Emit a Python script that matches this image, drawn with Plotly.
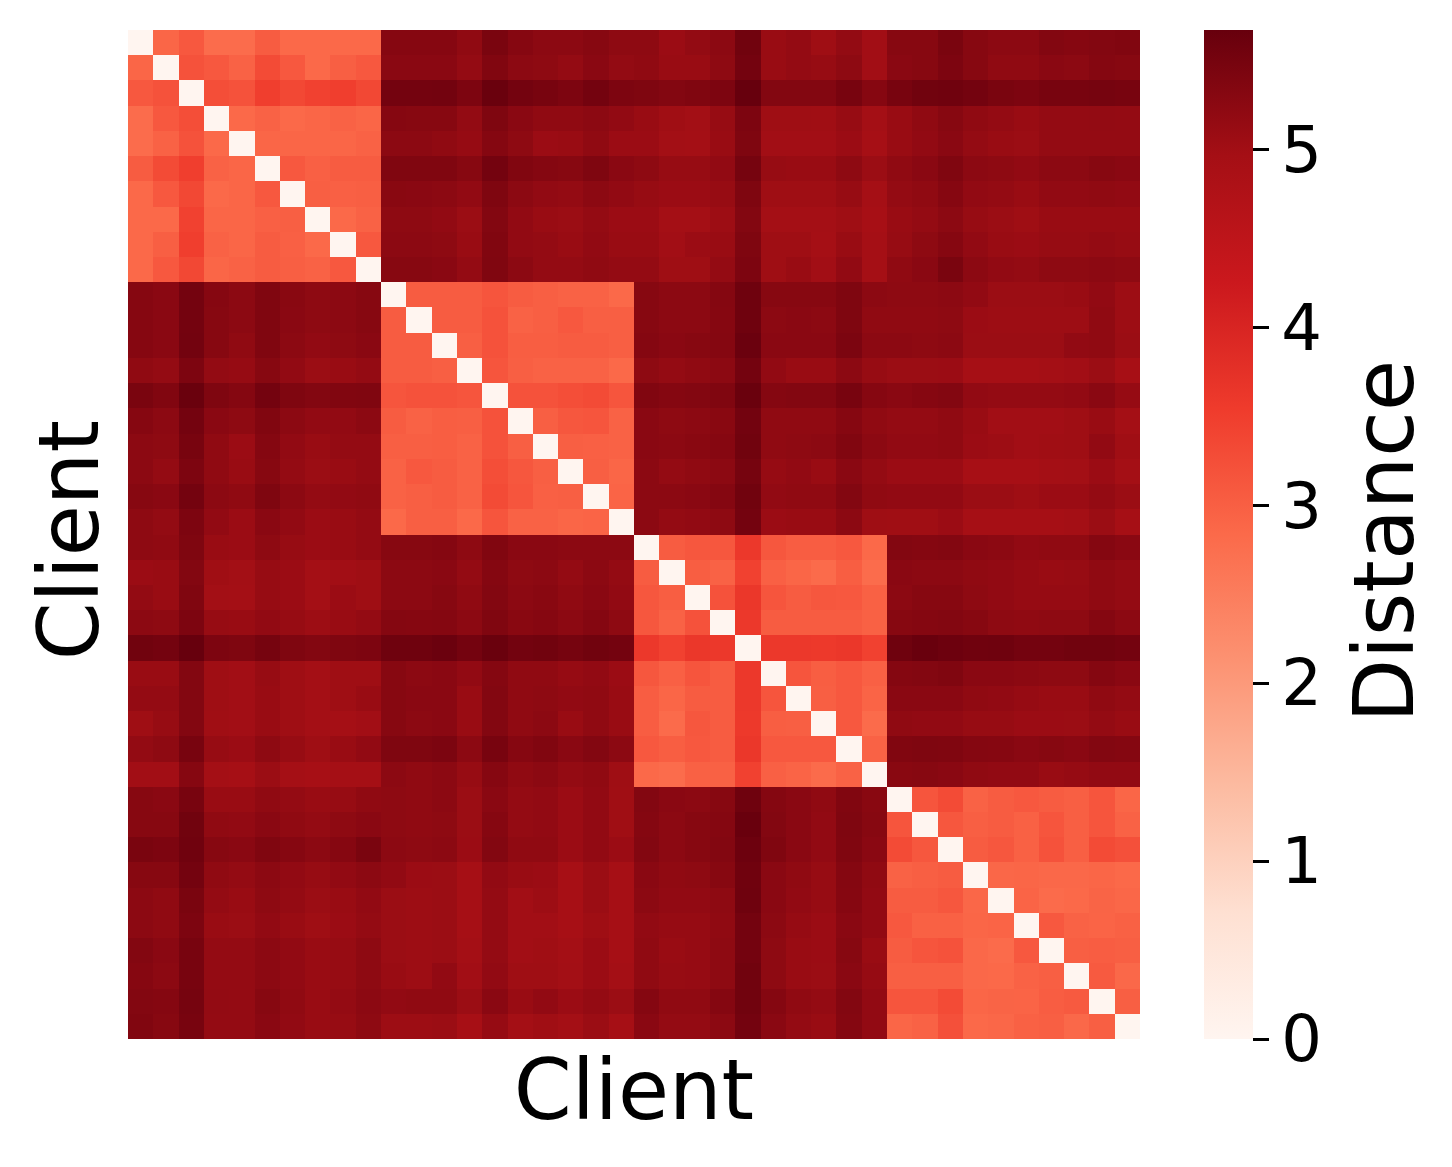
import plotly.graph_objects as go

# Upper triangle of the symmetric client distance matrix, one row per client
r00 = [0,2.9,3.1,2.8,2.8,3.05,2.85,2.85,2.85,2.85, 5.32,5.32,5.32,5.2,5.45,5.32,5.25,5.25,5.3,5.22, 5.22,5.08,5.17,5.25,5.55,5.1,5.15,5.03,5.17,5.0,5.3,5.3,5.45,5.3,5.25,5.25,5.35,5.32,5.35,5.37]
r01 = [0,3.2,3.1,2.95,3.3,3.1,2.85,3.0,3.1, 5.27,5.27,5.27,5.15,5.37,5.25,5.22,5.15,5.27,5.17, 5.2,5.1,5.1,5.22,5.52,5.1,5.15,5.12,5.22,5.0,5.27,5.3,5.42,5.3,5.2,5.2,5.27,5.25,5.33,5.3]
r02 = [0,3.25,3.2,3.5,3.35,3.45,3.5,3.35, 5.52,5.52,5.53,5.42,5.63,5.52,5.48,5.42,5.52,5.42, 5.4,5.35,5.38,5.42,5.67,5.35,5.35,5.35,5.47,5.32,5.47,5.55,5.57,5.52,5.45,5.42,5.47,5.47,5.5,5.47]
r03 = [0,2.85,2.95,2.85,2.9,2.95,2.9, 5.32,5.3,5.3,5.17,5.4,5.27,5.2,5.2,5.25,5.18, 5.1,5.02,4.98,5.12,5.42,5.03,5.03,5.02,5.12,4.97,5.1,5.2,5.3,5.2,5.15,5.1,5.15,5.15,5.17,5.15]
r04 = [0,2.9,2.9,2.9,2.9,2.95, 5.25,5.25,5.2,5.13,5.33,5.22,5.08,5.1,5.2,5.08, 5.08,4.98,4.97,5.1,5.4,5.0,5.0,5.0,5.08,4.95,5.1,5.18,5.27,5.15,5.1,5.07,5.15,5.15,5.15,5.15]
r05 = [0,3.1,2.98,3.05,3.05, 5.38,5.38,5.38,5.3,5.52,5.37,5.33,5.3,5.4,5.27, 5.22,5.12,5.12,5.18,5.5,5.12,5.1,5.1,5.22,5.07,5.2,5.27,5.38,5.25,5.22,5.18,5.25,5.25,5.3,5.27]
r06 = [0,3.0,2.98,3.0, 5.28,5.27,5.25,5.18,5.4,5.25,5.18,5.15,5.25,5.18, 5.12,5.08,5.08,5.12,5.4,5.03,5.03,5.03,5.12,4.96,5.15,5.2,5.32,5.18,5.15,5.1,5.18,5.18,5.2,5.18]
r07 = [0,2.85,2.95, 5.22,5.22,5.18,5.07,5.35,5.18,5.1,5.07,5.15,5.08, 5.08,4.97,4.97,5.05,5.35,4.97,4.97,4.97,5.03,4.93,5.1,5.15,5.25,5.12,5.07,5.03,5.1,5.1,5.1,5.1]
r08 = [0,3.1, 5.25,5.25,5.22,5.1,5.37,5.18,5.15,5.1,5.18,5.1, 5.1,5.0,5.08,5.1,5.4,5.03,5.03,4.96,5.1,4.96,5.12,5.22,5.32,5.18,5.1,5.08,5.12,5.12,5.15,5.12]
r09 = [0, 5.3,5.3,5.27,5.15,5.38,5.25,5.15,5.15,5.2,5.15, 5.15,5.03,5.03,5.15,5.42,5.03,5.1,5.0,5.18,4.96,5.2,5.27,5.45,5.25,5.18,5.15,5.22,5.22,5.25,5.22]
r10 = [0,3.05,3.05,3.05,3.15,3.05,3.0,2.95,2.95,2.85, 5.3,5.25,5.25,5.33,5.58,5.3,5.3,5.3,5.4,5.25,5.22,5.22,5.25,5.18,5.07,5.07,5.07,5.1,5.18,5.05]
r11 = [0,3.05,3.05,3.2,2.95,3.0,3.1,3.0,3.0, 5.3,5.25,5.25,5.32,5.58,5.25,5.27,5.25,5.4,5.2,5.2,5.2,5.22,5.08,5.05,5.05,5.05,5.05,5.2,5.05]
r12 = [0,3.0,3.2,3.02,3.02,3.05,3.05,3.0, 5.33,5.27,5.3,5.33,5.62,5.27,5.27,5.27,5.43,5.25,5.25,5.22,5.25,5.07,5.07,5.07,5.07,5.18,5.2,5.07]
r13 = [0,3.15,3.0,2.95,2.95,2.95,2.85, 5.22,5.15,5.2,5.25,5.52,5.18,5.1,5.1,5.25,5.12,5.07,5.07,5.08,4.95,4.95,4.95,4.97,5.0,5.07,4.93]
r14 = [0,3.2,3.2,3.25,3.3,3.15, 5.37,5.33,5.35,5.38,5.63,5.33,5.35,5.35,5.48,5.32,5.27,5.32,5.35,5.18,5.15,5.15,5.15,5.18,5.27,5.13]
r15 = [0,3.0,3.12,3.15,2.95, 5.27,5.22,5.25,5.28,5.53,5.2,5.2,5.2,5.32,5.2,5.15,5.15,5.2,5.1,5.0,5.0,5.0,5.03,5.1,4.97]
r16 = [0,3.0,2.98,2.95, 5.27,5.25,5.28,5.32,5.55,5.2,5.22,5.25,5.37,5.25,5.18,5.18,5.2,5.08,5.05,5.0,5.02,5.03,5.18,5.02]
r17 = [0,3.0,2.9, 5.25,5.15,5.2,5.25,5.5,5.13,5.18,5.1,5.27,5.15,5.08,5.08,5.08,4.93,4.93,4.93,4.97,4.98,5.08,4.97]
r18 = [0,2.92, 5.25,5.25,5.27,5.33,5.55,5.18,5.2,5.2,5.35,5.2,5.18,5.18,5.18,5.07,5.07,5.03,5.08,5.08,5.15,5.07]
r19 = [0, 5.25,5.15,5.18,5.22,5.52,5.08,5.1,5.1,5.25,5.03,5.02,5.02,5.08,4.95,4.95,4.95,4.95,4.97,5.07,4.95]
r20 = [0,3.05,3.12,3.12,3.6,3.12,3.03,3.03,3.1,2.85, 5.35,5.33,5.35,5.27,5.25,5.18,5.2,5.2,5.33,5.27]
r21 = [0,3.02,2.95,3.45,2.98,2.9,2.82,3.02,2.8, 5.27,5.25,5.25,5.2,5.18,5.13,5.1,5.12,5.2,5.15]
r22 = [0,3.2,3.62,3.15,3.05,3.12,3.1,2.97, 5.25,5.3,5.3,5.22,5.18,5.13,5.13,5.13,5.2,5.15]
r23 = [0,3.6,3.05,3.05,3.05,3.05,2.97, 5.3,5.33,5.35,5.3,5.22,5.2,5.22,5.22,5.33,5.25]
r24 = [0,3.6,3.6,3.58,3.62,3.45, 5.58,5.65,5.6,5.57,5.58,5.52,5.52,5.55,5.55,5.52]
r25 = [0,3.15,3.02,3.1,2.98, 5.33,5.35,5.38,5.27,5.27,5.25,5.22,5.22,5.33,5.27]
r26 = [0,3.0,3.1,2.92, 5.27,5.27,5.27,5.2,5.18,5.13,5.1,5.1,5.2,5.15]
r27 = [0,3.1,2.82, 5.2,5.18,5.18,5.12,5.12,5.08,5.08,5.07,5.15,5.1]
r28 = [0,2.95, 5.37,5.4,5.38,5.33,5.32,5.27,5.3,5.27,5.35,5.33]
r29 = [0, 5.28,5.3,5.27,5.2,5.18,5.18,5.1,5.13,5.18,5.18]
r30 = [0,3.15,3.3,2.95,3.05,3.1,3.05,3.0,3.15,2.9]
r31 = [0,3.12,3.0,3.05,2.97,3.15,3.0,3.15,2.95]
r32 = [0,3.05,3.12,2.97,3.2,3.0,3.3,3.22]
r33 = [0,2.88,2.9,2.87,2.87,2.9,2.85]
r34 = [0,2.92,2.82,2.85,2.93,2.88]
r35 = [0,3.1,2.95,2.92,2.97]
r36 = [0,3.0,3.03,3.0]
r37 = [0,3.07,2.87]
r38 = [0,3.0]
r39 = [0]

upper_rows = [r00,r01,r02,r03,r04,r05,r06,r07,r08,r09,r10,r11,r12,r13,r14,r15,r16,r17,r18,r19,
              r20,r21,r22,r23,r24,r25,r26,r27,r28,r29,r30,r31,r32,r33,r34,r35,r36,r37,r38,r39]
n = len(upper_rows)
z = [[0.0] * n for _ in range(n)]
for i, row in enumerate(upper_rows):
    for k, v in enumerate(row):
        z[i][i + k] = v
        z[i + k][i] = v

colorbar_ticks = [0, 1, 2, 3, 4, 5]
reds = ["#fff5f0", "#fee0d2", "#fcbba1", "#fc9272", "#fb6a4a", "#ef3b2c", "#cb181d", "#a50f15", "#67000d"]
colorscale = [[i / 8, c] for i, c in enumerate(reds)]
FONT = "DejaVu Sans"
title_font = dict(size=83, family=FONT, color="black")

fig = go.Figure(go.Heatmap(
    z=z, zmin=0, zmax=5.67, colorscale=colorscale,
    colorbar=dict(
        x=1.063, xanchor="left", xref="paper", y=0, yanchor="bottom", yref="paper",
        len=1, lenmode="fraction", thickness=49, thicknessmode="pixels",
        outlinewidth=0, tickmode="array", tickvals=colorbar_ticks, ticks="outside",
        ticklen=16, tickwidth=3, tickcolor="black", ypad=0, xpad=0,
        tickfont=dict(size=64, family=FONT, color="black"),
    ),
))
fig.add_annotation(text="Distance", textangle=-90, xref="paper", yref="paper",
                   x=1.242, y=0.4936, xanchor="center", yanchor="middle",
                   showarrow=False, font=title_font)
fig.add_annotation(text="Client", textangle=-90, xref="paper", yref="paper",
                   x=-0.058, y=0.4945, xanchor="center", yanchor="middle",
                   showarrow=False, font=title_font)
fig.update_xaxes(showticklabels=False, ticks="", showgrid=False, zeroline=False, showline=False,
                 title=dict(text="Client", font=title_font, standoff=21))
fig.update_yaxes(showticklabels=False, ticks="", showgrid=False, zeroline=False, showline=False,
                 autorange="reversed")
fig.update_layout(width=1436, height=1151, margin=dict(l=120, r=304, t=22, b=120, autoexpand=False),
                  paper_bgcolor="white", plot_bgcolor="white", font=dict(family=FONT))
fig.write_html("out.html")
